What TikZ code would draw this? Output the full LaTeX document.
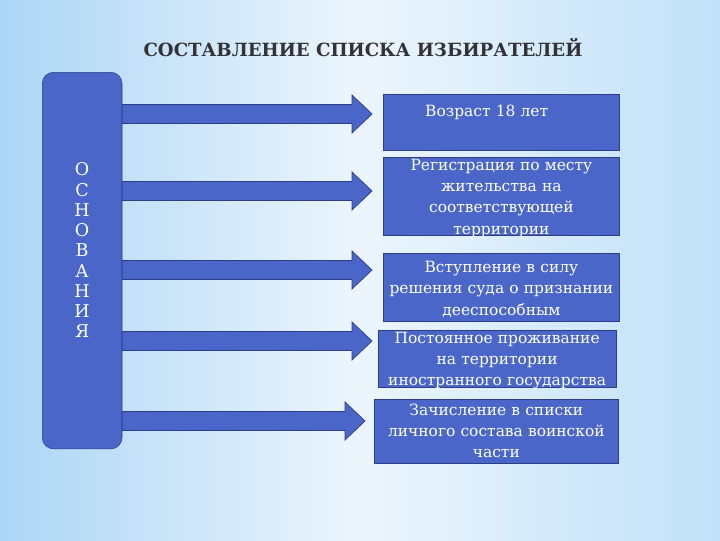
\documentclass[tikz,border=0pt]{standalone}
\usepackage{fontspec}
\setmainfont{DejaVu Serif}
\usetikzlibrary{calc}
\definecolor{boxblue}{RGB}{74,102,200}
\definecolor{boxline}{RGB}{45,62,135}
\definecolor{bgleft}{RGB}{172,214,245}
\definecolor{bgmid}{RGB}{236,245,252}
\definecolor{bgright}{RGB}{192,225,248}
\definecolor{titlegray}{RGB}{50,50,55}
\tikzset{
  osnbox/.style={draw=boxline, fill=boxblue, rounded corners=8pt, text=white, inner sep=0pt,
    font=\fontsize{12.5}{14.4}\selectfont, align=center, text width=56.7pt},
  rbox/.style={draw=boxline, fill=boxblue, text=white, inner sep=0pt, anchor=north west,
    align=center, font=\fontsize{11}{15.2}\selectfont},
  barrow/.style={draw=boxline, fill=boxblue, line width=0.5pt}
}
\newcommand{\blockarrow}[2]{%
  \draw[barrow] let \p1=(#1), \p2=(#2) in
    (\x1,\y1+6.7pt) -- (\x2-14.2pt,\y1+6.7pt) -- (\x2-14.2pt,\y1+13.5pt) -- (\x2,\y1)
    -- (\x2-14.2pt,\y1-13.5pt) -- (\x2-14.2pt,\y1-6.7pt) -- (\x1,\y1-6.7pt) -- cycle;}
\begin{document}
\begin{tikzpicture}[x=0.025cm,y=-0.025cm]
\useasboundingbox (0,0) rectangle (720,540);
\shade[left color=bgleft, right color=bgright, middle color=bgmid] (0,0) rectangle (720,540);
\node[font=\bfseries\fontsize{12.9}{14}\selectfont, text=titlegray] (title) at (363,48) {СОСТАВЛЕНИЕ СПИСКА ИЗБИРАТЕЛЕЙ};
\node[osnbox, anchor=north west, text height=73.7pt, text depth=194.1pt] (osn) at (42,72) {О\\С\\Н\\О\\В\\А\\Н\\И\\Я};
\coordinate (t1) at (372,114);
\coordinate (t2) at (372,191);
\coordinate (t3) at (372,270);
\coordinate (t4) at (372,341);
\coordinate (t5) at (365,421);
\foreach \t in {t1,t2,t3,t4,t5}
  \blockarrow{osn.east |- \t}{\t};
\node[rbox, text width=168pt, text height=15.6pt, text depth=24pt, align=left] (r1) at (383,94) {\hspace*{29.8pt}Возраст 18 лет};
\node[rbox, text width=168pt, text height=9.2pt, text depth=46.1pt] (r2) at (383,157) {Регистрация по месту\\жительства на\\соответствующей\\территории};
\node[rbox, text width=168pt, text height=13.5pt, text depth=34.7pt] (r3) at (383,253) {Вступление в силу\\решения суда о признании\\дееспособным};
\node[rbox, text width=169pt, text height=9.2pt, text depth=31.2pt] (r4) at (378,330) {Постоянное проживание\\на территории\\иностранного государства};
\node[rbox, text width=173.6pt, text height=11.3pt, text depth=34.1pt] (r5) at (374,399) {Зачисление в списки\\личного состава воинской\\части};
\end{tikzpicture}
\end{document}
